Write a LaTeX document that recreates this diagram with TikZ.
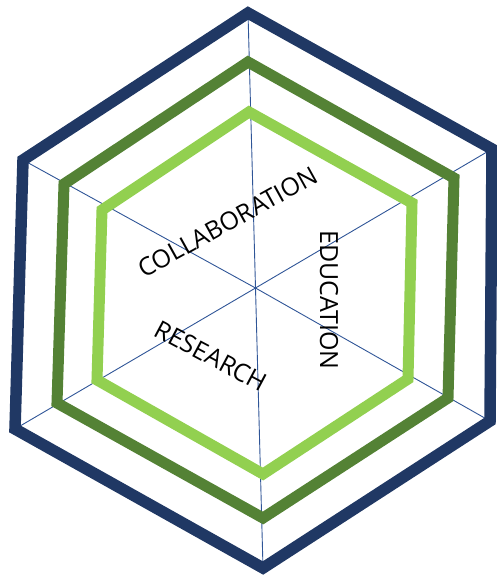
\documentclass[tikz,border=0pt]{standalone}
\usepackage{fontspec}
\setmainfont{Open Sans}
\definecolor{navy}{HTML}{203864}
\definecolor{dkgreen}{HTML}{548235}
\definecolor{ltgreen}{HTML}{92D050}
\definecolor{spokeblue}{HTML}{2F5597}
\begin{document}
\begin{tikzpicture}[x=1pt,y=-1pt,
  ring/.style={line width=11pt, line join=miter},
  spoke/.style={spokeblue, line width=0.9pt},
  lbl/.style={font=\fontsize{25}{29}\selectfont, inner sep=0pt, text=black}]
\useasboundingbox (0,0) rectangle (496,577);
\coordinate (C) at (255.5,288);
% navy (outer) vertices
\coordinate (N1) at (248,13);
\coordinate (N2) at (492,149);
\coordinate (N3) at (490,421);
\coordinate (N4) at (263,568);
\coordinate (N5) at (15,429);
\coordinate (N6) at (23,160);
% dark green vertices
\coordinate (D1) at (248,62);
\coordinate (D2) at (454,178);
\coordinate (D3) at (448,398);
\coordinate (D4) at (263,518);
\coordinate (D5) at (57,403);
\coordinate (D6) at (64,184);
% light green vertices
\coordinate (G1) at (249,112);
\coordinate (G2) at (412,203);
\coordinate (G3) at (408,379);
\coordinate (G4) at (263,474);
\coordinate (G5) at (97,380);
\coordinate (G6) at (102,210);
% spokes
\foreach \i in {1,...,6} \draw[spoke] (C) -- (N\i);
% rings
\draw[ring, ltgreen] (G1) -- (G2) -- (G3) -- (G4) -- (G5) -- (G6) -- cycle;
\draw[ring, dkgreen] (D1) -- (D2) -- (D3) -- (D4) -- (D5) -- (D6) -- cycle;
\draw[ring, navy, line width=11.5pt] (N1) -- (N2) -- (N3) -- (N4) -- (N5) -- (N6) -- cycle;
% labels
\node[lbl, rotate=29] (collab) at (228,222) {COLLABORATION};
\node[lbl, rotate=-90] (edu) at (329,300) {EDUCATION};
\node[lbl, rotate=-28] (res) at (211,356) {RESEARCH};
\end{tikzpicture}
\end{document}
